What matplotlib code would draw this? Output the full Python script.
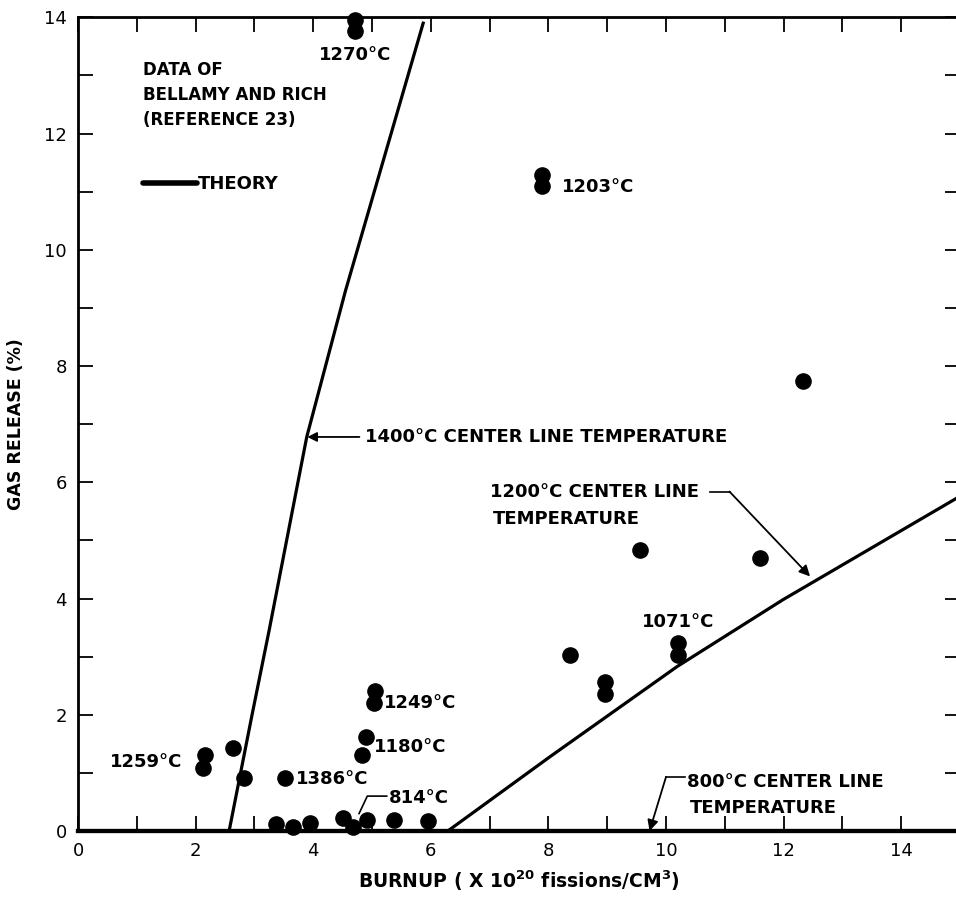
import matplotlib
matplotlib.use("Agg")
import matplotlib.pyplot as plt

# measured data points (burnup, gas release)
burnup = [4.71, 4.71, 7.89, 7.89, 12.33, 9.56, 11.60, 10.20, 10.20, 8.37,
          8.96, 8.96, 5.05, 5.03, 4.90, 4.83, 2.16, 2.13, 2.64, 2.82, 3.52,
          3.37, 3.66, 3.95, 4.51, 4.68, 4.91, 5.37, 5.95]
release = [13.96, 13.76, 11.28, 11.09, 7.74, 4.84, 4.69, 3.24, 3.02, 3.03,
           2.57, 2.36, 2.40, 2.21, 1.62, 1.31, 1.31, 1.09, 1.43, 0.91, 0.91,
           0.12, 0.07, 0.14, 0.22, 0.07, 0.19, 0.19, 0.17]

# theory curves
t1400_x = [2.57, 2.96, 3.25, 3.89, 4.55, 5.87]
t1400_y = [0.0, 2.0, 3.45, 6.78, 9.3, 13.9]
t1200_x = [6.29, 8.03, 10.19, 11.99, 15.0]
t1200_y = [0.0, 1.28, 2.83, 3.98, 5.76]
t800_x = [0.0, 15.0]
t800_y = [0.0, 0.0]

# temperature labels
temp_labels = ["1270°C", "1203°C", "1071°C", "1249°C", "1180°C", "1386°C", "1259°C", "814°C"]
temp_x = [4.71, 8.23, 10.2, 5.2, 5.03, 3.70, 1.78, 5.28]
temp_y = [13.35, 11.08, 3.6, 2.2, 1.45, 0.89, 1.19, 0.57]
temp_ha = ["center", "left", "center", "left", "left", "left", "right", "left"]

fs = 13
fw = "bold"
fig = plt.figure(figsize=(9.56, 9.0), dpi=100)
ax = fig.add_axes([0.0816, 0.0767, 0.9226, 0.904])
ax.set_xlim(0, 15)
ax.set_ylim(0, 14)

ax.plot(t1400_x, t1400_y, color="black", lw=2.3)
ax.plot(t1200_x, t1200_y, color="black", lw=2.3)
ax.plot(t800_x, t800_y, color="black", lw=3, clip_on=False)
ax.scatter(burnup, release, s=120, color="black", zorder=5, clip_on=False)

for lab, x, y, ha in zip(temp_labels, temp_x, temp_y, temp_ha):
    ax.text(x, y, lab, fontsize=fs, fontweight=fw, ha=ha, va="center")

# annotation for 814
ax.plot([5.25, 4.92, 4.78], [0.60, 0.60, 0.30], color="black", lw=1.2)

# 1400 arrow
ax.annotate("1400°C CENTER LINE TEMPERATURE", xy=(3.90, 6.78), xytext=(4.88, 6.78),
            fontsize=fs, fontweight=fw, va="center", ha="left",
            arrowprops=dict(arrowstyle="-|>", color="black", lw=1.3,
                            shrinkA=2, shrinkB=0, mutation_scale=14))

# 1200 label
ax.text(7.0, 5.84, "1200°C CENTER LINE", fontsize=fs, fontweight=fw, va="center", ha="left")
ax.text(7.05, 5.36, "TEMPERATURE", fontsize=fs, fontweight=fw, va="center", ha="left")
ax.plot([10.75, 11.08], [5.84, 5.84], color="black", lw=1.2)
ax.annotate("", xy=(12.45, 4.38), xytext=(11.08, 5.84),
            arrowprops=dict(arrowstyle="-|>", color="black", lw=1.3,
                            shrinkA=0, shrinkB=0, mutation_scale=16))

# 800 label
ax.text(10.35, 0.84, "800°C CENTER LINE", fontsize=fs, fontweight=fw, va="center", ha="left")
ax.text(10.4, 0.40, "TEMPERATURE", fontsize=fs, fontweight=fw, va="center", ha="left")
ax.plot([10.33, 10.0], [0.93, 0.93], color="black", lw=1.2)
ax.annotate("", xy=(9.72, 0.0), xytext=(10.0, 0.93),
            arrowprops=dict(arrowstyle="-|>", color="black", lw=1.3,
                            shrinkA=0, shrinkB=0, mutation_scale=16))

# legend block
ax.text(1.1, 13.1, "DATA OF", fontsize=fs - 1, fontweight=fw, va="center")
ax.text(1.1, 12.67, "BELLAMY AND RICH", fontsize=fs - 1, fontweight=fw, va="center")
ax.text(1.1, 12.24, "(REFERENCE 23)", fontsize=fs - 1, fontweight=fw, va="center")
ax.plot([1.11, 2.02], [11.15, 11.15], color="black", lw=4, solid_capstyle="round")
ax.text(2.04, 11.13, "THEORY", fontsize=fs, fontweight=fw, va="center")

ax.set_xticks(range(0, 16))
ax.set_xticklabels([str(i) if i % 2 == 0 else "" for i in range(0, 16)])
ax.set_yticks(range(0, 15))
ax.set_yticklabels([str(i) if i % 2 == 0 else "" for i in range(0, 15)])
ax.tick_params(direction="in", length=11, width=1.3, labelsize=fs,
               top=True, right=True, pad=8)
ax.spines["right"].set_visible(False)
ax.spines["left"].set_linewidth(2)
ax.spines["top"].set_linewidth(2)
ax.spines["bottom"].set_linewidth(3)

ax.set_ylabel("GAS RELEASE (%)", fontsize=fs - 0.5, fontweight=fw, labelpad=14)
ax.set_xlabel("BURNUP ( X 10$^{\\mathbf{20}}$ fissions/CM$^{\\mathbf{3}}$)",
              fontsize=fs + 0.5, fontweight=fw, labelpad=6)

fig.savefig("out.png", dpi=100)
